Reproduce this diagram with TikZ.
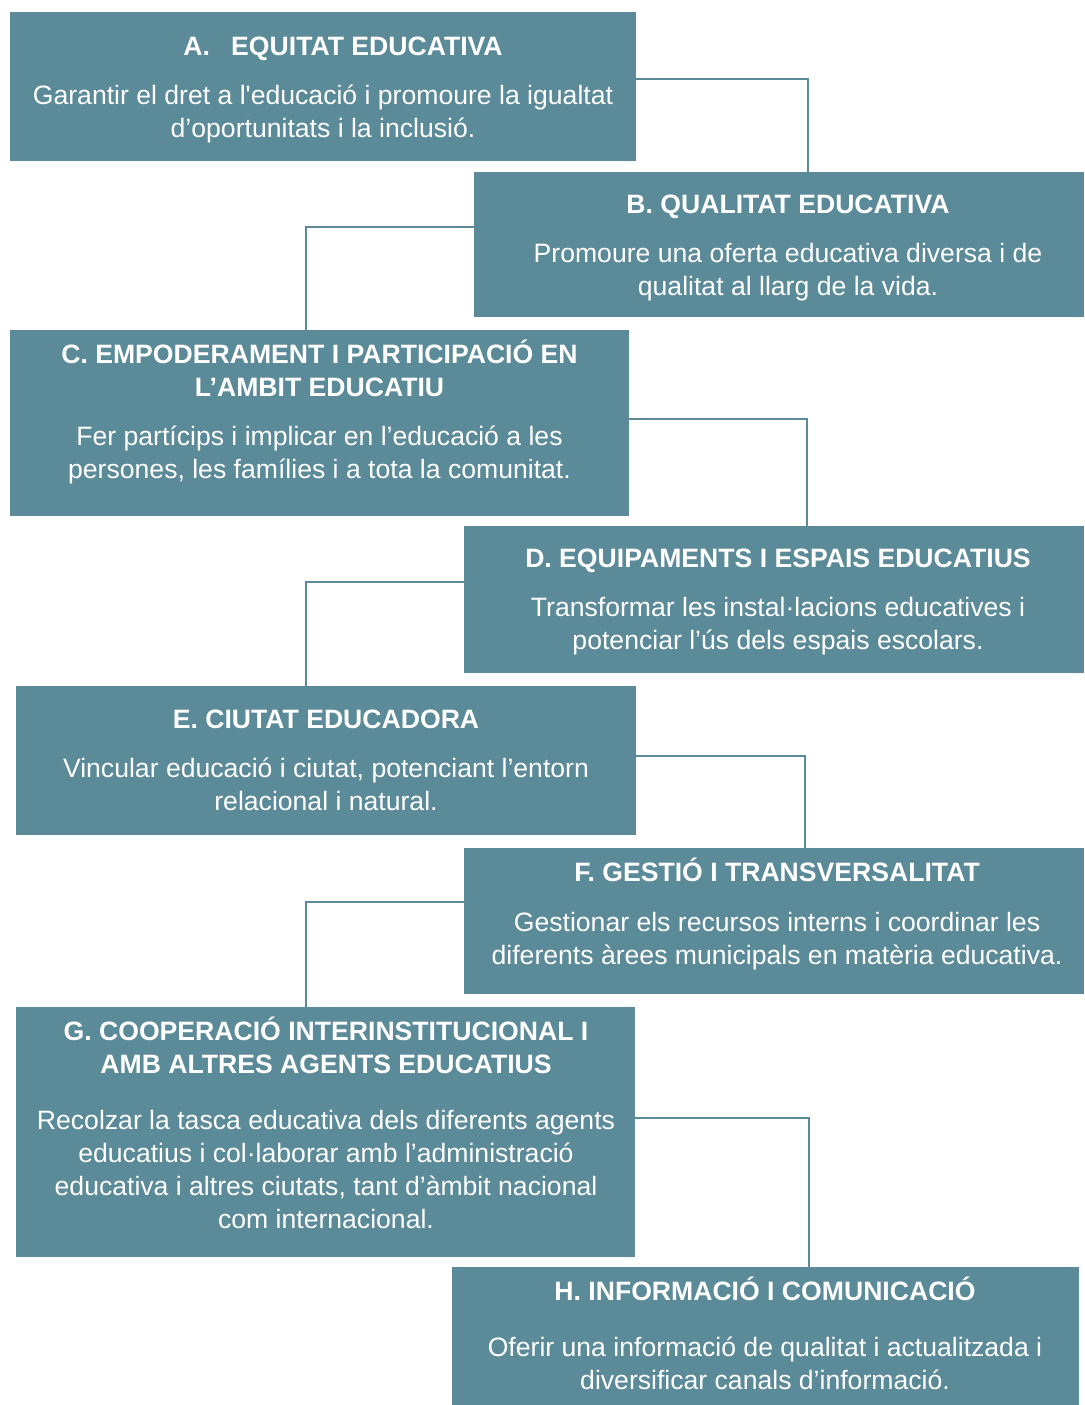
\documentclass[tikz,border=0pt]{standalone}
\usepackage{fontspec}
\setmainfont{Liberation Sans}[Ligatures=TeXOff]
\usetikzlibrary{calc}
\definecolor{boxc}{HTML}{5B8A99}
\tikzset{
  box/.style={fill=boxc, draw=none, anchor=north west, inner sep=0pt},
  txt/.style={anchor=north, inner sep=0pt, align=center, text=white,
              font=\fontsize{26.6}{33}\selectfont},
  link/.style={draw=boxc, line width=2pt}
}
\newcommand{\ttl}[1]{\textbf{#1}}
\begin{document}
\begin{tikzpicture}[x=1pt,y=-1pt]
\useasboundingbox (0,0) rectangle (1084,1405);
% boxes
\node[box, minimum width=626, minimum height=149] (A) at (10,12) {};
\node[box, minimum width=610, minimum height=145] (B) at (474,172) {};
\node[box, minimum width=619, minimum height=186] (C) at (10,330) {};
\node[box, minimum width=620, minimum height=147] (D) at (464,526) {};
\node[box, minimum width=620, minimum height=149] (E) at (16,686) {};
\node[box, minimum width=620, minimum height=146] (F) at (464,848) {};
\node[box, minimum width=619, minimum height=250] (G) at (16,1007) {};
\node[box, minimum width=627, minimum height=138] (H) at (452,1267) {};
% texts
\node[txt] (At) at (323,32) {\strut\hspace*{40pt}\ttl{A.\hspace{0.8em}EQUITAT EDUCATIVA}\\[16pt]
 Garantir el dret a l'educació i promoure la igualtat\\ d’oportunitats i la inclusió.};
\node[txt] (Bt) at (788,190) {\strut\ttl{B. QUALITAT EDUCATIVA}\\[16pt]
 Promoure una oferta educativa diversa i de\\ qualitat al llarg de la vida.};
\node[txt] (Ct) at (319.5,340) {\strut\ttl{C. EMPODERAMENT I PARTICIPACIÓ EN}\\ \ttl{L’AMBIT EDUCATIU}\\[16pt]
 Fer partícips i implicar en l’educació a les\\ persones, les famílies i a tota la comunitat.};
\node[txt] (Dt) at (778,544) {\strut\ttl{D. EQUIPAMENTS I ESPAIS EDUCATIUS}\\[16pt]
 Transformar les instal·lacions educatives i\\ potenciar l’ús dels espais escolars.};
\node[txt] (Et) at (326,705) {\strut\ttl{E. CIUTAT EDUCADORA}\\[16pt]
 Vincular educació i ciutat, potenciant l’entorn\\ relacional i natural.};
\node[txt] (Ft) at (777,858) {\strut\ttl{F. GESTIÓ I TRANSVERSALITAT}\\[17pt]
 Gestionar els recursos interns i coordinar les\\ diferents àrees municipals en matèria educativa.};
\node[txt] (Gt) at (326,1017) {\strut\ttl{G. COOPERACIÓ INTERINSTITUCIONAL I}\\ \ttl{AMB ALTRES AGENTS EDUCATIUS}\\[23pt]
 Recolzar la tasca educativa dels diferents agents\\ educatius i col·laborar amb l’administració\\ educativa i altres ciutats, tant d’àmbit nacional\\ com internacional.};
\node[txt] (Ht) at (765,1277) {\strut\ttl{H. INFORMACIÓ I COMUNICACIÓ}\\[23pt]
 Oferir una informació de qualitat i actualitzada i\\ diversificar canals d’informació.};
% connectors
\draw[link] ($(A.north east)+(0,67)$) -| ($(B.north west)+(334,0)$);
\draw[link] ($(B.north west)+(0,55)$) -| ($(C.north west)+(296,0)$);
\draw[link] ($(C.north east)+(0,89)$) -| ($(D.north west)+(343,0)$);
\draw[link] ($(D.north west)+(0,56)$) -| ($(E.north west)+(290,0)$);
\draw[link] ($(E.north east)+(0,70)$) -| ($(F.north west)+(341,0)$);
\draw[link] ($(F.north west)+(0,54)$) -| ($(G.north west)+(290,0)$);
\draw[link] ($(G.north east)+(0,111)$) -| ($(H.north west)+(357,0)$);
\end{tikzpicture}
\end{document}
